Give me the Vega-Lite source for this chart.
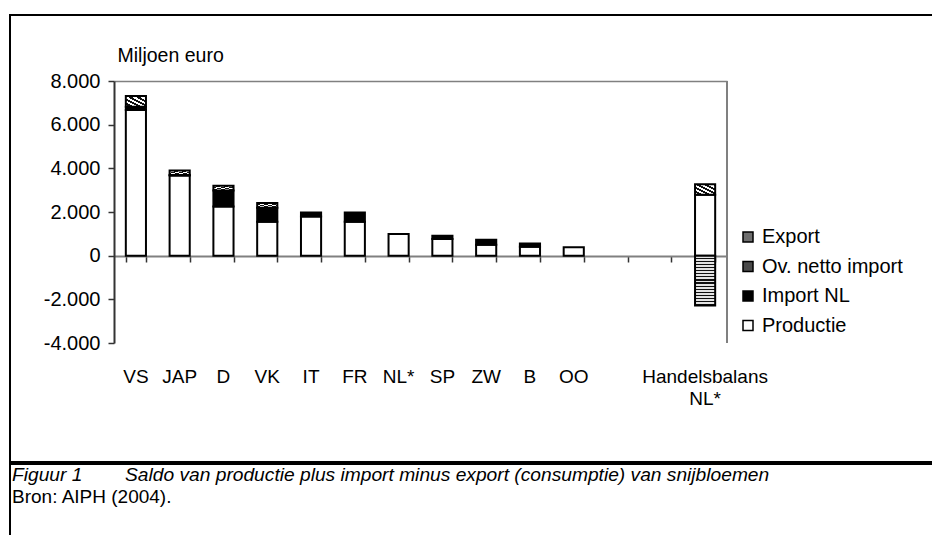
{
  "$schema": "https://vega.github.io/schema/vega-lite/v6.json",
  "width": 940,
  "height": 530,
  "autosize": {"type": "none"},
  "padding": {"left": 10, "top": 15, "right": -18, "bottom": -10},
  "background": "white",
  "config": {
    "font": "Liberation Sans",
    "view": {"stroke": "black", "strokeWidth": 2, "fill": "white"}
  },
  "title": {
    "text": "Figuur 1\u00a0\u00a0\u00a0\u00a0\u00a0\u00a0\u00a0\u00a0Saldo van productie plus import minus export (consumptie) van snijbloemen",
    "subtitle": "Bron: AIPH (2004).",
    "orient": "top",
    "anchor": "start",
    "frame": "group",
    "offset": 0,
    "dx": 2,
    "dy": 492,
    "font": "Liberation Sans",
    "fontSize": 19.2,
    "fontStyle": "italic",
    "fontWeight": "normal",
    "color": "black",
    "subtitleFont": "Liberation Sans",
    "subtitleFontSize": 19,
    "subtitleColor": "black",
    "subtitlePadding": 3
  },
  "data": {
    "values": [
      {"cat": "VS", "comp": "Productie", "value": 6670},
      {"cat": "VS", "comp": "Import NL", "value": 150},
      {"cat": "VS", "comp": "Ov. netto import", "value": 490},
      {"cat": "JAP", "comp": "Productie", "value": 3670},
      {"cat": "JAP", "comp": "Import NL", "value": 30},
      {"cat": "JAP", "comp": "Ov. netto import", "value": 200},
      {"cat": "D", "comp": "Productie", "value": 2250},
      {"cat": "D", "comp": "Import NL", "value": 730},
      {"cat": "D", "comp": "Ov. netto import", "value": 220},
      {"cat": "VK", "comp": "Productie", "value": 1550},
      {"cat": "VK", "comp": "Import NL", "value": 650},
      {"cat": "VK", "comp": "Ov. netto import", "value": 210},
      {"cat": "IT", "comp": "Productie", "value": 1790},
      {"cat": "IT", "comp": "Import NL", "value": 190},
      {"cat": "FR", "comp": "Productie", "value": 1550},
      {"cat": "FR", "comp": "Import NL", "value": 430},
      {"cat": "NL*", "comp": "Productie", "value": 990},
      {"cat": "SP", "comp": "Productie", "value": 760},
      {"cat": "SP", "comp": "Import NL", "value": 150},
      {"cat": "ZW", "comp": "Productie", "value": 500},
      {"cat": "ZW", "comp": "Import NL", "value": 230},
      {"cat": "B", "comp": "Productie", "value": 410},
      {"cat": "B", "comp": "Import NL", "value": 150},
      {"cat": "OO", "comp": "Productie", "value": 380},
      {"cat": "Handelsbalans NL*", "comp": "Productie", "value": 2790},
      {"cat": "Handelsbalans NL*", "comp": "Ov. netto import", "value": 480},
      {"cat": "Handelsbalans NL*", "comp": "Export", "value": -2280}
    ]
  },
  "layer": [
    {
      "transform": [
        {"calculate": "indexof(['Productie', 'Import NL', 'Ov. netto import', 'Export'], datum.comp)", "as": "stackorder"}
      ],
      "mark": {"type": "bar", "stroke": "black", "strokeWidth": 2},
      "encoding": {
        "x": {
          "field": "cat",
          "type": "nominal",
          "sort": null,
          "scale": {
            "domain": ["VS", "JAP", "D", "VK", "IT", "FR", "NL*", "SP", "ZW", "B", "OO", " ", "  ", "Handelsbalans NL*"],
            "range": [104, 717],
            "paddingInner": 0.54,
            "paddingOuter": 0.27
          },
          "axis": {
            "orient": "bottom",
            "offset": -289,
            "labels": false,
            "title": null,
            "grid": false,
            "tickBand": "extent",
            "ticks": true,
            "tickSize": 6,
            "tickColor": "#333333",
            "tickWidth": 1.5,
            "domainColor": "#808080",
            "domainWidth": 2
          }
        },
        "y": {
          "field": "value",
          "type": "quantitative",
          "stack": "zero",
          "scale": {"domain": [-4000, 8000], "range": [328, 66], "nice": false, "zero": false},
          "axis": {
            "orient": "left",
            "offset": -104,
            "values": [-4000, -2000, 0, 2000, 4000, 6000, 8000],
            "labelExpr": "replace(replace(format(datum.value, ','), ',', '.'), '\u2212', '-')",
            "labelFontSize": 20,
            "labelColor": "black",
            "labelPadding": 8,
            "tickSize": 6,
            "tickColor": "#333333",
            "tickWidth": 1.5,
            "domainColor": "#333333",
            "domainWidth": 2,
            "grid": true,
            "gridColor": "#808080",
            "gridWidth": 1.5,
            "gridOpacity": {"condition": {"test": "datum.value === 8000", "value": 1}, "value": 0},
            "title": "Miljoen euro",
            "titleAngle": 0,
            "titleAlign": "left",
            "titleBaseline": "alphabetic",
            "titleX": 3,
            "titleY": 46,
            "titleFontSize": 19.5,
            "titleFontWeight": "normal",
            "titleColor": "black"
          }
        },
        "fill": {
          "field": "comp",
          "type": "nominal",
          "scale": {
            "domain": ["Export", "Ov. netto import", "Import NL", "Productie"],
            "range": ["#6e6e6e", "#4a4a4a", "black", "white"]
          },
          "legend": {
            "orient": "none",
            "legendX": 728,
            "legendY": 212,
            "title": null,
            "padding": 0,
            "symbolType": "square",
            "symbolSize": 100,
            "symbolStrokeColor": "black",
            "symbolStrokeWidth": 1.5,
            "labelFontSize": 20,
            "labelColor": "black",
            "labelOffset": 4,
            "rowPadding": 9.5
          },
          "condition": [
            {"test": "datum.comp === 'Export'", "value": {"gradient": "linear", "x1": 0, "y1": 0, "x2": 0, "y2": 1, "stops": [
              {"offset": 0, "color": "#e4e4e4"}, {"offset": 0.0375, "color": "#e4e4e4"}, {"offset": 0.0375, "color": "#111111"}, {"offset": 0.0625, "color": "#111111"},
              {"offset": 0.0625, "color": "#e4e4e4"}, {"offset": 0.1, "color": "#e4e4e4"}, {"offset": 0.1, "color": "#111111"}, {"offset": 0.125, "color": "#111111"},
              {"offset": 0.125, "color": "#e4e4e4"}, {"offset": 0.1625, "color": "#e4e4e4"}, {"offset": 0.1625, "color": "#111111"}, {"offset": 0.1875, "color": "#111111"},
              {"offset": 0.1875, "color": "#e4e4e4"}, {"offset": 0.225, "color": "#e4e4e4"}, {"offset": 0.225, "color": "#111111"}, {"offset": 0.25, "color": "#111111"},
              {"offset": 0.25, "color": "#e4e4e4"}, {"offset": 0.2875, "color": "#e4e4e4"}, {"offset": 0.2875, "color": "#111111"}, {"offset": 0.3125, "color": "#111111"},
              {"offset": 0.3125, "color": "#e4e4e4"}, {"offset": 0.35, "color": "#e4e4e4"}, {"offset": 0.35, "color": "#111111"}, {"offset": 0.375, "color": "#111111"},
              {"offset": 0.375, "color": "#e4e4e4"}, {"offset": 0.4125, "color": "#e4e4e4"}, {"offset": 0.4125, "color": "#111111"}, {"offset": 0.4375, "color": "#111111"},
              {"offset": 0.4375, "color": "#e4e4e4"}, {"offset": 0.475, "color": "#e4e4e4"}, {"offset": 0.475, "color": "#111111"}, {"offset": 0.5, "color": "#111111"},
              {"offset": 0.5, "color": "#e4e4e4"}, {"offset": 0.5375, "color": "#e4e4e4"}, {"offset": 0.5375, "color": "#111111"}, {"offset": 0.5625, "color": "#111111"},
              {"offset": 0.5625, "color": "#e4e4e4"}, {"offset": 0.6, "color": "#e4e4e4"}, {"offset": 0.6, "color": "#111111"}, {"offset": 0.625, "color": "#111111"},
              {"offset": 0.625, "color": "#e4e4e4"}, {"offset": 0.6625, "color": "#e4e4e4"}, {"offset": 0.6625, "color": "#111111"}, {"offset": 0.6875, "color": "#111111"},
              {"offset": 0.6875, "color": "#e4e4e4"}, {"offset": 0.725, "color": "#e4e4e4"}, {"offset": 0.725, "color": "#111111"}, {"offset": 0.75, "color": "#111111"},
              {"offset": 0.75, "color": "#e4e4e4"}, {"offset": 0.7875, "color": "#e4e4e4"}, {"offset": 0.7875, "color": "#111111"}, {"offset": 0.8125, "color": "#111111"},
              {"offset": 0.8125, "color": "#e4e4e4"}, {"offset": 0.85, "color": "#e4e4e4"}, {"offset": 0.85, "color": "#111111"}, {"offset": 0.875, "color": "#111111"},
              {"offset": 0.875, "color": "#e4e4e4"}, {"offset": 0.9125, "color": "#e4e4e4"}, {"offset": 0.9125, "color": "#111111"}, {"offset": 0.9375, "color": "#111111"},
              {"offset": 0.9375, "color": "#e4e4e4"}, {"offset": 0.975, "color": "#e4e4e4"}, {"offset": 0.975, "color": "#111111"}, {"offset": 1, "color": "#111111"}]}},
            {"test": "datum.comp === 'Ov. netto import'", "value": {"gradient": "linear", "x1": 0, "y1": 1, "x2": 1, "y2": 0, "stops": [
              {"offset": 0, "color": "#ffffff"}, {"offset": 0.1, "color": "#ffffff"}, {"offset": 0.1, "color": "#111111"}, {"offset": 0.2, "color": "#111111"},
              {"offset": 0.2, "color": "#ffffff"}, {"offset": 0.3, "color": "#ffffff"}, {"offset": 0.3, "color": "#111111"}, {"offset": 0.4, "color": "#111111"},
              {"offset": 0.4, "color": "#ffffff"}, {"offset": 0.5, "color": "#ffffff"}, {"offset": 0.5, "color": "#111111"}, {"offset": 0.6, "color": "#111111"},
              {"offset": 0.6, "color": "#ffffff"}, {"offset": 0.7, "color": "#ffffff"}, {"offset": 0.7, "color": "#111111"}, {"offset": 0.8, "color": "#111111"},
              {"offset": 0.8, "color": "#ffffff"}, {"offset": 0.9, "color": "#ffffff"}, {"offset": 0.9, "color": "#111111"}, {"offset": 1, "color": "#111111"}]}}
          ]
        },
        "order": {"field": "stackorder", "type": "quantitative"}
      }
    },
    {
      "transform": [
        {"filter": "datum.cat === 'Handelsbalans NL*' && datum.comp === 'Productie'"}
      ],
      "mark": {"type": "rule", "stroke": "#808080", "strokeWidth": 2},
      "encoding": {
        "x": {
          "field": "cat",
          "type": "nominal",
          "sort": null,
          "bandPosition": 1.587,
          "scale": {
            "domain": ["VS", "JAP", "D", "VK", "IT", "FR", "NL*", "SP", "ZW", "B", "OO", " ", "  ", "Handelsbalans NL*"],
            "range": [104, 717],
            "paddingInner": 0.54,
            "paddingOuter": 0.27
          },
          "axis": {
            "orient": "bottom",
            "offset": -202,
            "domain": false,
            "ticks": false,
            "tickSize": 0,
            "grid": false,
            "title": null,
            "labelAngle": 0,
            "labelPadding": 24,
            "labelFontSize": 19,
            "labelColor": "black",
            "labelLineHeight": 22,
            "labelOverlap": false,
            "labelBound": false,
            "labelFlush": false,
            "labelExpr": "datum.value === 'Handelsbalans NL*' ? ['Handelsbalans', 'NL*'] : datum.value"
          }
        },
        "y": {"datum": 8000, "scale": {"domain": [-4000, 8000], "range": [328, 66], "nice": false, "zero": false}, "axis": null},
        "y2": {"datum": -4000}
      }
    },
    {
      "mark": {"type": "rule", "stroke": "black", "strokeWidth": 2.5},
      "encoding": {
        "y": {"datum": -9496, "scale": {"domain": [-4000, 8000], "range": [328, 66], "nice": false, "zero": false}, "axis": null}
      }
    }
  ],
  "resolve": {"axis": {"x": "independent", "y": "independent"}}
}
